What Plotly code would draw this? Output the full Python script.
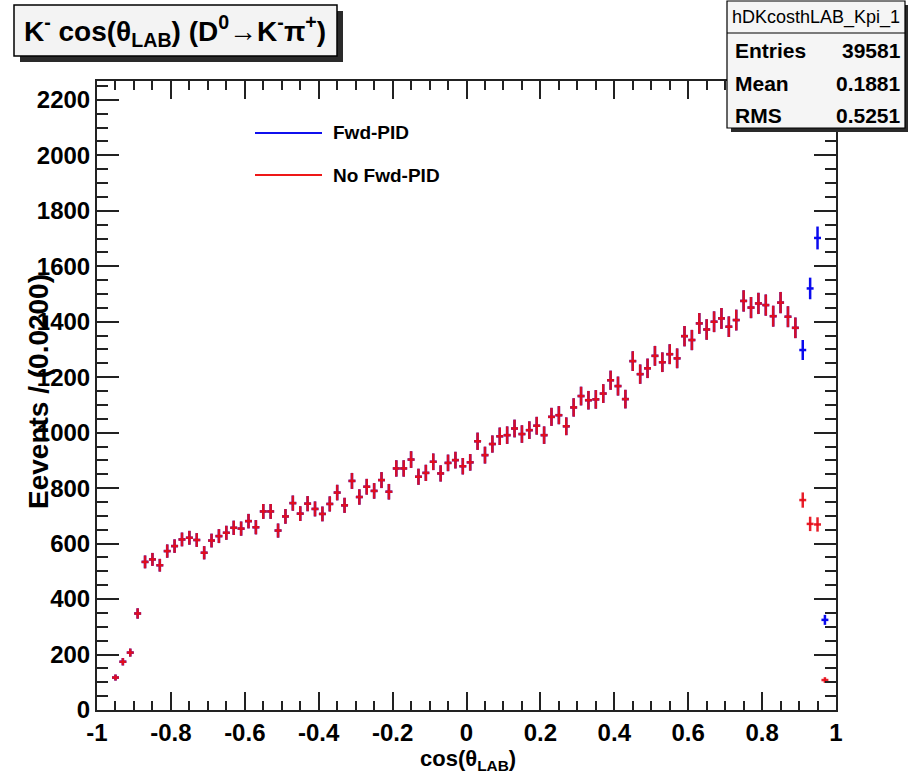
import numpy as np
import plotly.graph_objects as go

# ---------------- data ----------------
bin_width = 0.02
bin_centers = [round(-0.95 + bin_width * i, 2) for i in range(97)]

no_fwd_pid = [117, 174, 207, 348, 534, 543, 522, 573, 591, 615,
              621, 613, 567, 611, 627, 639, 657, 654, 681, 659,
              716, 716, 647, 698, 746, 708, 744, 725, 707, 743,
              784, 738, 826, 768, 805, 790, 829, 787, 871, 871,
              903, 841, 855, 895, 853, 891, 901, 879,
              893, 969, 919, 959, 987, 991, 1015, 995, 1009, 1025,
              991, 1057, 1063, 1023, 1091, 1132, 1117, 1120, 1141, 1189,
              1168, 1121, 1258, 1211, 1232, 1277, 1254, 1283, 1268, 1348,
              1334, 1394, 1372, 1400, 1412, 1382, 1406, 1475, 1451, 1466,
              1460, 1420, 1469, 1418, 1378, 757, 671, 669, 108]

fwd_pid = no_fwd_pid[:93] + [1298, 1520, 1702, 325]

x_ticks = [-1, -0.8, -0.6, -0.4, -0.2, 0, 0.2, 0.4, 0.6, 0.8, 1]
x_tick_labels = ["-1", "-0.8", "-0.6", "-0.4", "-0.2", "0", "0.2", "0.4", "0.6", "0.8", "1"]
y_ticks = [0, 200, 400, 600, 800, 1000, 1200, 1400, 1600, 1800, 2000, 2200]

stats_name = "hDKcosthLAB_Kpi_1"
stats_rows = [("Entries", "39581"), ("Mean", "0.1881"), ("RMS", "0.5251")]
legend_names = ["Fwd-PID", "No Fwd-PID"]

# ---------------- layout helpers ----------------
W, H = 908, 779
L, R, T, B = 97, 836, 81, 710
FONT = "Liberation Sans"

def px(x):
    return (x - L) / (R - L)

def py(y):
    return (B - y) / (B - T)

BLUE = "#0a0aee"
RED = "rgba(230,14,26,0.93)"

fig = go.Figure()

for vals, col, name in [(fwd_pid, BLUE, legend_names[0]), (no_fwd_pid, RED, legend_names[1])]:
    fig.add_trace(go.Scatter(
        x=bin_centers, y=vals, mode="markers", name=name,
        marker=dict(size=1, color=col),
        error_y=dict(type="data", array=np.sqrt(vals).tolist(), thickness=2.5, width=0, color=col),
        error_x=dict(type="constant", value=bin_width * 0.47, thickness=2.5, width=0, color=col),
        showlegend=False,
    ))

shapes = []
annotations = []

# title box with shadow
shapes.append(dict(type="rect", xref="paper", yref="paper",
                   x0=px(20), x1=px(343), y0=py(62), y1=py(11),
                   fillcolor="#2a2a2a", line=dict(width=0), layer="above"))
shapes.append(dict(type="rect", xref="paper", yref="paper",
                   x0=px(14), x1=px(337), y0=py(56), y1=py(5),
                   fillcolor="#f3f3f3", line=dict(color="black", width=1.5), layer="above"))
annotations.append(dict(
    xref="paper", yref="paper", x=px(175), y=py(31), xanchor="center", yanchor="middle",
    text="K<sup>-</sup> cos(θ<sub>LAB</sub>) (D<sup>0</sup>→K<sup>-</sup>π<sup>+</sup>)",
    showarrow=False, font=dict(family=FONT, size=28, color="black", weight="bold")))

# stats box with shadow
shapes.append(dict(type="rect", xref="paper", yref="paper",
                   x0=px(731), x1=px(910), y0=py(132), y1=py(5),
                   fillcolor="#2a2a2a", line=dict(width=0), layer="above"))
shapes.append(dict(type="rect", xref="paper", yref="paper",
                   x0=px(727), x1=px(905), y0=py(128), y1=py(1),
                   fillcolor="#f5f5f5", line=dict(color="black", width=1.2), layer="above"))
shapes.append(dict(type="line", xref="paper", yref="paper",
                   x0=px(727), x1=px(905), y0=py(33), y1=py(33),
                   line=dict(color="black", width=1.2), layer="above"))
annotations.append(dict(
    xref="paper", yref="paper", x=px(816), y=py(17), xanchor="center", yanchor="middle",
    text=stats_name, showarrow=False, font=dict(family=FONT, size=18, color="black")))
for (lab, val), yy in zip(stats_rows, [50, 83, 115]):
    annotations.append(dict(xref="paper", yref="paper", x=px(733), y=py(yy), xanchor="left",
                            yanchor="middle", text=lab, showarrow=False,
                            font=dict(family=FONT, size=21, color="black", weight="bold")))
    annotations.append(dict(xref="paper", yref="paper", x=px(903), y=py(yy), xanchor="right",
                            yanchor="middle", text=val, showarrow=False,
                            font=dict(family=FONT, size=21, color="black", weight="bold")))

# legend
for name, col, yy in [(legend_names[0], "#1010ee", 133), (legend_names[1], "#ee1818", 175)]:
    shapes.append(dict(type="line", xref="paper", yref="paper",
                       x0=px(255), x1=px(322), y0=py(yy), y1=py(yy),
                       line=dict(color=col, width=2)))
    annotations.append(dict(xref="paper", yref="paper", x=px(331), y=py(yy), xanchor="left",
                            yanchor="middle", text=name, showarrow=False,
                            font=dict(family=FONT, size=19, color="black", weight="bold")))

# axis titles
annotations.append(dict(xref="paper", yref="paper", x=px(38), y=py(392), xanchor="center",
                        yanchor="middle", text="Eevents / (0.0200)", textangle=-90, showarrow=False,
                        font=dict(family=FONT, size=28, color="black", weight="bold")))
annotations.append(dict(xref="paper", yref="paper", x=px(468), y=py(760), xanchor="center",
                        yanchor="middle", text="cos(θ<sub>LAB</sub>)", showarrow=False,
                        font=dict(family=FONT, size=22, color="black", weight="bold")))

fig.update_layout(
    width=W, height=H, autosize=False,
    margin=dict(l=L, r=W - R, t=T, b=H - B, pad=0),
    paper_bgcolor="white", plot_bgcolor="white",
    showlegend=False,
    shapes=shapes, annotations=annotations,
    font=dict(family=FONT, color="black"),
)
fig.update_xaxes(
    range=[-1, 1], tickmode="array", tickvals=x_ticks, ticktext=x_tick_labels,
    ticks="inside", ticklen=18, tickwidth=1.5, tickcolor="#222",
    showline=True, linecolor="#222", linewidth=2, mirror="ticks",
    showgrid=False, zeroline=False,
    tickfont=dict(family=FONT, size=24, color="black", weight="bold"),
    minor=dict(dtick=0.05, tick0=0, ticks="inside", ticklen=9, tickwidth=1.5, tickcolor="#222", showgrid=False),
)
fig.update_yaxes(
    range=[0, 2268], tickmode="array", tickvals=y_ticks,
    ticks="inside", ticklen=22, tickwidth=1.5, tickcolor="#222",
    showline=True, linecolor="#222", linewidth=2, mirror="ticks",
    showgrid=False, zeroline=False,
    tickfont=dict(family=FONT, size=24, color="black", weight="bold"),
    minor=dict(dtick=50, tick0=0, ticks="inside", ticklen=11, tickwidth=1.5, tickcolor="#222", showgrid=False),
)

fig.write_html("out.html")
